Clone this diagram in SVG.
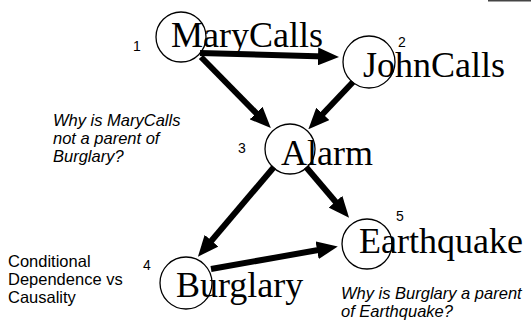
<svg xmlns="http://www.w3.org/2000/svg" width="531" height="324" viewBox="0 0 531 324">
  <style>
    .node circle { fill: none; stroke: #000; stroke-width: 1.3; }
    .node text.name { font-family: "Liberation Serif", "Times New Roman", serif; font-size: 36px; fill: #000; }
    .num { font-family: "Liberation Sans", Arial, sans-serif; font-size: 14px; fill: #000; }
    .note { font-family: "Liberation Sans", Arial, sans-serif; font-size: 16.5px; fill: #000; }
    .note.it { font-style: italic; }
    .edge { stroke: #000; stroke-width: 6; fill: none; marker-end: url(#ah); }
  </style>
  <defs>
    <marker id="ah" markerUnits="userSpaceOnUse" markerWidth="21" markerHeight="18" refX="7" refY="9" orient="auto" viewBox="0 0 21 18">
      <path d="M0,0 L21,9 L0,18 z" fill="#000"/>
    </marker>
  </defs>
  <rect x="488" y="0" width="43" height="1.5" fill="#444"/>

  <g id="edges">
    <line class="edge" x1="200" y1="53" x2="325" y2="56.6"/>
    <line class="edge" x1="201" y1="57" x2="261" y2="118"/>
    <line class="edge" x1="353" y1="82" x2="318" y2="119"/>
    <line class="edge" x1="274" y1="167" x2="207" y2="246"/>
    <line class="edge" x1="306" y1="167" x2="340" y2="207"/>
    <line class="edge" x1="211" y1="269" x2="324" y2="249"/>
  </g>

  <g id="n1" class="node">
    <circle cx="181" cy="37" r="25"/>
    <text class="name" x="171" y="47">MaryCalls</text>
    <text class="num" x="133" y="51">1</text>
  </g>
  <g id="n2" class="node">
    <circle cx="369" cy="62" r="26"/>
    <text class="name" x="363" y="77">JohnCalls</text>
    <text class="num" x="398" y="47">2</text>
  </g>
  <g id="n3" class="node">
    <circle cx="290" cy="149" r="25"/>
    <text class="name" x="281" y="165">Alarm</text>
    <text class="num" x="238" y="153">3</text>
  </g>
  <g id="n4" class="node">
    <circle cx="186" cy="283" r="26"/>
    <text class="name" x="176" y="297">Burglary</text>
    <text class="num" x="143" y="270">4</text>
  </g>
  <g id="n5" class="node">
    <circle cx="367" cy="244" r="25"/>
    <text class="name" x="359" y="253">Earthquake</text>
    <text class="num" x="396" y="221">5</text>
  </g>

  <g id="notes">
    <text class="note it" x="53" y="126">Why is MaryCalls</text>
    <text class="note it" x="53" y="144">not a parent of</text>
    <text class="note it" x="53" y="162">Burglary?</text>
    <text class="note" x="8" y="267">Conditional</text>
    <text class="note" x="8" y="285">Dependence vs</text>
    <text class="note" x="8" y="303">Causality</text>
    <text class="note it" x="341" y="299">Why is Burglary a  parent</text>
    <text class="note it" x="341" y="317">of Earthquake?</text>
  </g>
</svg>
